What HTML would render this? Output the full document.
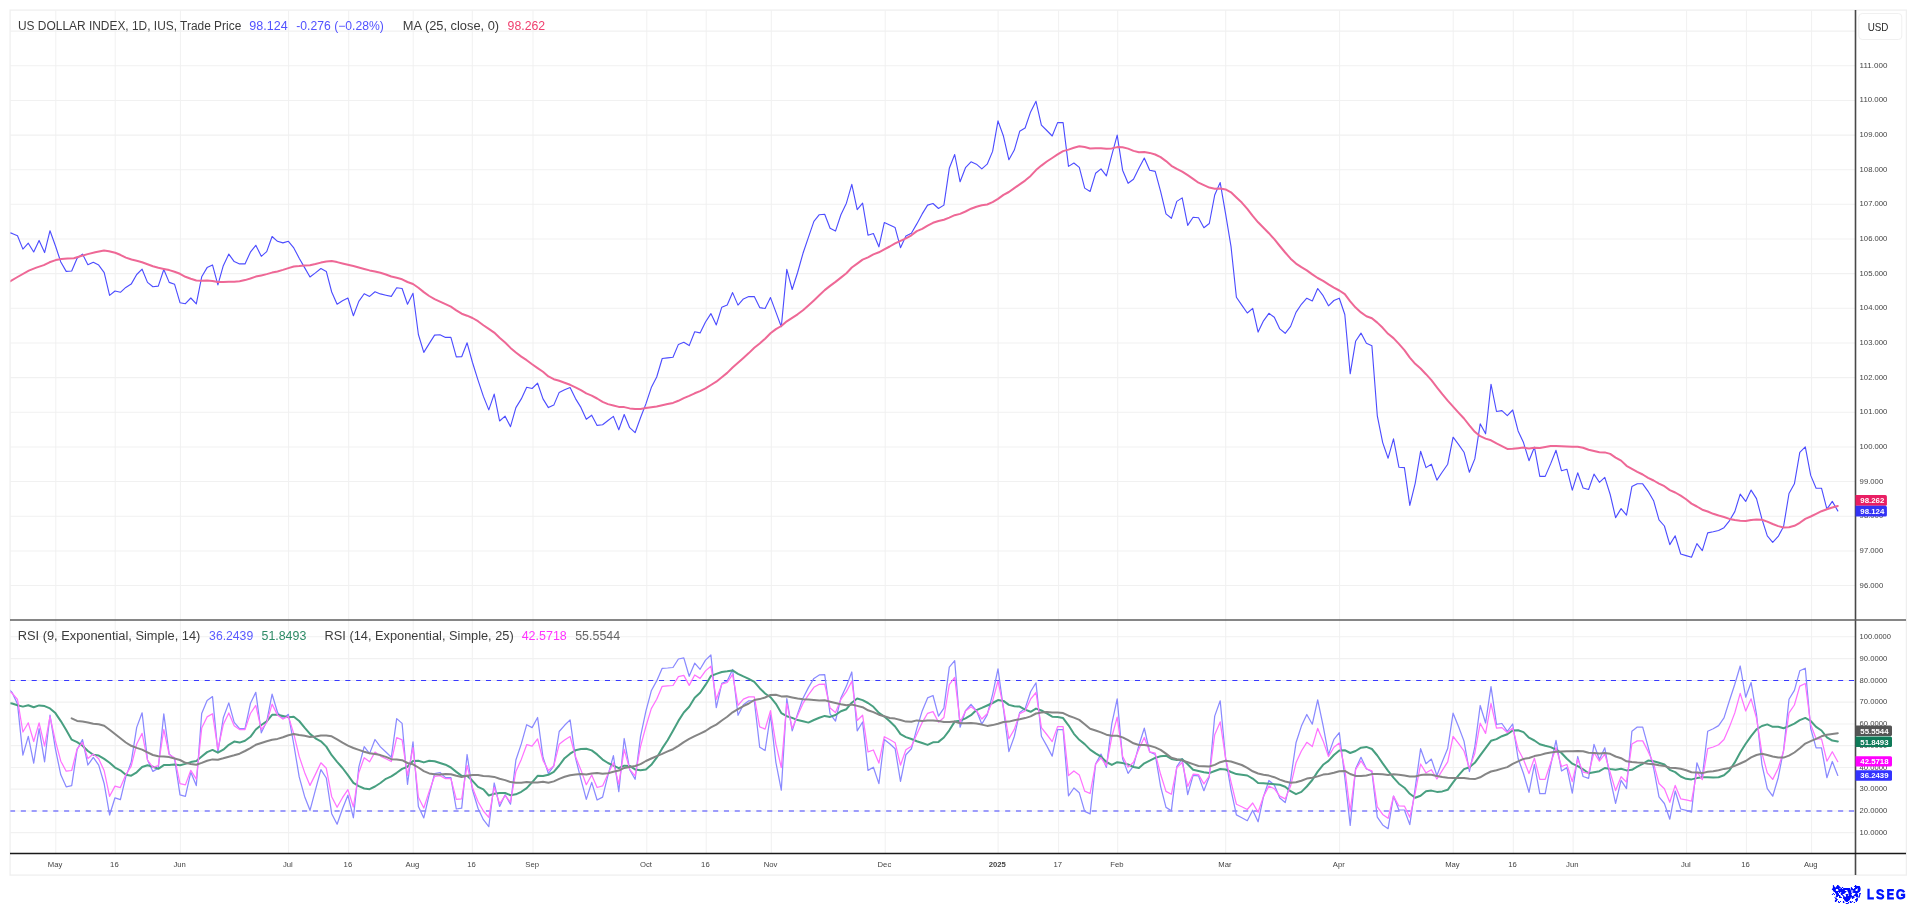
<!DOCTYPE html>
<html><head><meta charset="utf-8"><title>US DOLLAR INDEX</title>
<style>html,body{margin:0;padding:0;background:#fff;overflow:hidden}body{width:1916px;height:905px;position:relative;font-family:"Liberation Sans",sans-serif}</style>
</head><body>
<svg width="1916" height="905" viewBox="0 0 1916 905" style="position:absolute;left:0;top:0;will-change:transform" font-family="Liberation Sans, sans-serif">
<rect x="0" y="0" width="1916" height="905" fill="#fff"/>
<rect x="10.1" y="10.1" width="1896.3" height="865" fill="none" stroke="#efefef" stroke-width="1.3"/>
<path d="M55.8 10V853.5M115.2 10V853.5M180.4 10V853.5M288.6 10V853.5M348.7 10V853.5M413.2 10V853.5M472.3 10V853.5M533.0 10V853.5M646.8 10V853.5M706.2 10V853.5M771.3 10V853.5M885.2 10V853.5M998.1 10V853.5M1058.6 10V853.5M1117.7 10V853.5M1225.7 10V853.5M1339.6 10V853.5M1453.2 10V853.5M1513.3 10V853.5M1573.1 10V853.5M1686.6 10V853.5M1746.4 10V853.5M1811.6 10V853.5M10 585.5H1855.5M10 550.9H1855.5M10 516.2H1855.5M10 481.5H1855.5M10 446.9H1855.5M10 412.2H1855.5M10 377.6H1855.5M10 342.9H1855.5M10 308.3H1855.5M10 273.6H1855.5M10 239.0H1855.5M10 204.3H1855.5M10 169.7H1855.5M10 135.1H1855.5M10 100.4H1855.5M10 65.8H1855.5M10 31.1H1855.5M10 832.6H1855.5M10 810.9H1855.5M10 789.1H1855.5M10 767.4H1855.5M10 745.6H1855.5M10 723.9H1855.5M10 702.1H1855.5M10 680.4H1855.5M10 658.6H1855.5M10 636.8H1855.5" stroke="#f1f1f1" stroke-width="1.05" fill="none"/>
<defs><clipPath id="cp"><rect x="10.4" y="10" width="1845.1" height="610"/></clipPath><clipPath id="cr"><rect x="10.4" y="620.5" width="1845.1" height="233"/></clipPath></defs>
<g clip-path="url(#cr)" fill="none" stroke-linejoin="round" stroke-linecap="round">
<path d="M10 680.5H1855.5" stroke="#3838ff" stroke-width="1.1" stroke-dasharray="5.1 5.717" stroke-linecap="butt"/>
<path d="M10 811H1855.5" stroke="#4040ff" stroke-width="1" stroke-dasharray="5.1 5.717" stroke-linecap="butt"/>
<path d="M6.6 687.1L12.1 692.5L17.5 703.9L22.9 755.1L28.3 736.4L33.7 763.1L39.1 728.7L44.6 761.8L50.0 715.2L55.4 748.8L60.8 774.8L66.2 786.8L71.7 785.6L77.1 749.6L82.5 739.6L87.9 765.0L93.3 757.4L98.7 765.1L104.2 783.8L109.6 815.0L115.0 797.8L120.4 799.7L125.8 776.9L131.2 762.1L136.7 727.4L142.1 712.8L147.5 759.9L152.9 771.4L158.3 768.2L163.8 713.9L169.2 754.0L174.6 759.0L180.0 794.9L185.4 796.4L190.8 772.2L196.3 785.6L201.7 713.5L207.1 700.4L212.5 696.6L217.9 752.2L223.3 717.8L228.8 702.9L234.2 722.4L239.6 728.6L245.0 728.6L250.4 703.6L255.8 692.3L261.3 732.8L266.7 721.5L272.1 694.2L277.5 712.3L282.9 718.7L288.4 714.3L293.8 744.5L299.2 776.9L304.6 796.4L310.0 810.3L315.4 790.2L320.9 769.6L326.3 778.0L331.7 813.7L337.1 824.2L342.5 808.7L347.9 795.2L353.4 817.8L358.8 767.2L364.2 746.7L369.6 753.6L375.0 739.5L380.4 746.9L385.9 752.0L391.3 757.3L396.7 718.6L402.1 723.4L407.5 784.3L413.0 741.8L418.4 806.5L423.8 817.9L429.2 794.7L434.6 773.6L440.0 772.5L445.5 777.6L450.9 777.6L456.3 809.0L461.7 808.1L467.1 754.5L472.5 790.0L478.0 808.3L483.4 819.7L488.8 826.7L494.2 783.0L499.6 806.4L505.1 794.8L510.5 804.1L515.9 760.0L521.3 743.9L526.7 724.7L532.1 727.6L537.6 717.5L543.0 757.3L548.4 773.5L553.8 765.8L559.2 731.5L564.6 725.3L570.1 719.9L575.5 757.9L580.9 779.1L586.3 799.4L591.7 782.4L597.1 800.0L602.6 797.1L608.0 775.1L613.4 755.7L618.8 791.6L624.2 738.5L629.7 769.7L635.1 779.3L640.5 736.7L645.9 711.2L651.3 690.8L656.7 680.9L662.2 668.3L667.6 668.0L673.0 667.5L678.4 659.0L683.8 657.9L689.2 676.3L694.7 663.2L700.1 669.3L705.5 660.1L710.9 655.0L716.3 707.7L721.8 683.4L727.2 681.0L732.6 669.5L738.0 715.3L743.4 704.8L748.8 700.8L754.3 700.8L759.7 747.3L765.1 750.5L770.5 714.9L775.9 762.5L781.3 790.1L786.8 698.6L792.2 730.8L797.6 713.9L803.0 698.2L808.4 687.6L813.9 678.4L819.3 674.9L824.7 674.6L830.1 713.8L835.5 721.0L840.9 697.9L846.4 686.1L851.8 672.0L857.2 730.8L862.6 722.0L868.0 770.4L873.4 767.2L878.9 783.6L884.3 739.5L889.7 743.8L895.1 748.7L900.5 781.3L905.9 754.7L911.4 748.8L916.8 728.6L922.2 710.9L927.6 697.9L933.0 695.5L938.5 716.2L943.9 708.2L949.3 667.1L954.7 660.7L960.1 727.2L965.5 710.7L971.0 704.3L976.4 710.6L981.8 724.1L987.2 714.9L992.6 694.3L998.0 668.9L1003.5 709.2L1008.9 751.6L1014.3 736.5L1019.7 712.4L1025.1 708.6L1030.6 691.7L1036.0 682.8L1041.4 736.3L1046.8 745.9L1052.2 756.1L1057.6 729.5L1063.1 729.5L1068.5 795.8L1073.9 788.0L1079.3 792.8L1084.7 811.4L1090.1 813.9L1095.6 764.1L1101.0 754.1L1106.4 767.4L1111.8 723.9L1117.2 698.9L1122.6 758.8L1128.1 773.4L1133.5 765.8L1138.9 745.3L1144.3 728.2L1149.7 752.0L1155.2 754.3L1160.6 786.3L1166.0 807.4L1171.4 810.7L1176.8 766.6L1182.2 758.6L1187.7 794.6L1193.1 775.4L1198.5 775.9L1203.9 790.7L1209.3 776.8L1214.7 716.1L1220.2 700.8L1225.6 758.3L1231.0 789.8L1236.4 814.9L1241.8 817.7L1247.3 820.7L1252.7 810.2L1258.1 821.8L1263.5 796.7L1268.9 780.5L1274.3 785.1L1279.8 798.0L1285.2 802.6L1290.6 779.8L1296.0 742.8L1301.4 726.1L1306.8 714.5L1312.3 724.2L1317.7 699.8L1323.1 725.6L1328.5 754.6L1333.9 739.4L1339.3 732.7L1344.8 777.3L1350.2 825.4L1355.6 768.7L1361.0 757.3L1366.4 768.7L1371.9 771.7L1377.3 817.2L1382.7 824.9L1388.1 828.7L1393.5 796.1L1398.9 809.9L1404.4 810.0L1409.8 824.6L1415.2 788.1L1420.6 748.7L1426.0 763.7L1431.4 759.1L1436.9 775.6L1442.3 761.8L1447.7 748.5L1453.1 713.2L1458.5 726.6L1464.0 741.1L1469.4 771.5L1474.8 746.8L1480.2 705.5L1485.6 723.0L1491.0 686.6L1496.5 724.3L1501.9 723.5L1507.3 731.3L1512.7 724.0L1518.1 758.5L1523.5 773.5L1529.0 792.3L1534.4 764.5L1539.8 793.7L1545.2 793.7L1550.6 765.6L1556.0 740.4L1561.5 771.0L1566.9 767.6L1572.3 793.1L1577.7 756.5L1583.1 776.5L1588.6 778.4L1594.0 744.4L1599.4 759.5L1604.8 747.8L1610.2 778.6L1615.6 803.4L1621.1 780.4L1626.5 788.6L1631.9 731.3L1637.3 727.1L1642.7 727.1L1648.1 746.9L1653.6 768.0L1659.0 796.8L1664.4 803.5L1669.8 819.2L1675.2 791.0L1680.7 809.0L1686.1 810.4L1691.5 812.1L1696.9 762.8L1702.3 776.7L1707.7 731.2L1713.2 728.8L1718.6 725.6L1724.0 717.9L1729.4 700.8L1734.8 684.2L1740.2 666.0L1745.7 697.2L1751.1 682.5L1756.5 714.4L1761.9 764.3L1767.3 788.6L1772.7 796.2L1778.2 777.7L1783.6 750.0L1789.0 699.3L1794.4 690.4L1799.8 670.8L1805.3 668.2L1810.7 728.5L1816.1 747.8L1821.5 747.8L1826.9 777.7L1832.3 761.5L1837.8 775.4" stroke="#8a8aff" stroke-width="1.25"/>
<path d="M6.6 702.8L12.1 703.5L17.5 705.2L22.9 706.6L28.3 705.2L33.7 707.2L39.1 705.4L44.6 706.1L50.0 708.4L55.4 713.1L60.8 721.1L66.2 730.1L71.7 739.7L77.1 742.1L82.5 745.8L87.9 751.0L93.3 754.8L98.7 755.6L104.2 758.9L109.6 762.7L115.0 767.6L120.4 770.3L125.8 774.7L131.2 775.7L136.7 772.3L142.1 767.0L147.5 765.2L152.9 766.7L158.3 768.8L163.8 765.1L169.2 764.9L174.6 764.4L180.0 765.2L185.4 763.9L190.8 762.1L196.3 761.1L201.7 756.5L207.1 752.1L212.5 749.9L217.9 752.7L223.3 749.7L228.8 744.8L234.2 741.6L239.6 742.6L245.0 740.8L250.4 736.8L255.8 729.5L261.3 725.0L266.7 721.4L272.1 714.8L277.5 714.7L282.9 716.0L288.4 717.3L293.8 716.8L299.2 721.0L304.6 727.7L310.0 733.9L315.4 738.3L320.9 741.3L326.3 746.6L331.7 755.2L337.1 761.8L342.5 768.0L347.9 775.2L353.4 782.8L358.8 786.2L364.2 788.5L369.6 789.2L375.0 786.5L380.4 783.0L385.9 778.8L391.3 776.4L396.7 772.8L402.1 768.9L407.5 766.8L413.0 760.9L418.4 760.8L423.8 762.4L429.2 760.7L434.6 761.2L440.0 763.0L445.5 764.7L450.9 767.5L456.3 771.9L461.7 775.9L467.1 775.7L472.5 780.8L478.0 786.9L483.4 789.4L488.8 795.5L494.2 793.8L499.6 793.0L505.1 793.0L510.5 795.2L515.9 794.3L521.3 791.8L526.7 788.1L532.1 782.3L537.6 775.8L543.0 776.0L548.4 774.8L553.8 771.8L559.2 765.5L564.6 758.2L570.1 753.7L575.5 750.3L580.9 749.1L586.3 748.8L591.7 750.4L597.1 754.4L602.6 759.6L608.0 763.0L613.4 765.7L618.8 768.2L624.2 765.7L629.7 765.9L635.1 769.4L640.5 770.2L645.9 769.6L651.3 764.8L656.7 757.7L662.2 748.4L667.6 740.2L673.0 730.7L678.4 720.9L683.8 712.5L689.2 706.8L694.7 697.7L700.1 692.7L705.5 684.9L710.9 676.0L716.3 673.9L721.8 672.0L727.2 671.3L732.6 670.4L738.0 673.8L743.4 676.4L748.8 678.8L754.3 681.8L759.7 688.2L765.1 693.5L770.5 697.2L775.9 703.8L781.3 713.1L786.8 716.2L792.2 717.9L797.6 720.1L803.0 721.3L808.4 722.6L813.9 720.0L819.3 717.8L824.7 715.9L830.1 716.9L835.5 715.0L840.9 711.2L846.4 709.2L851.8 702.7L857.2 698.5L862.6 700.1L868.0 703.0L873.4 706.8L878.9 712.9L884.3 716.6L889.7 721.2L895.1 726.5L900.5 734.1L905.9 737.1L911.4 739.0L916.8 741.2L922.2 743.0L927.6 744.9L933.0 742.3L938.5 741.9L943.9 737.5L949.3 730.3L954.7 721.6L960.1 720.7L965.5 718.3L971.0 715.2L976.4 710.1L981.8 707.9L987.2 705.5L992.6 703.0L998.0 700.1L1003.5 700.9L1008.9 704.9L1014.3 706.3L1019.7 706.6L1025.1 709.6L1030.6 711.8L1036.0 708.6L1041.4 710.5L1046.8 713.4L1052.2 716.7L1057.6 717.1L1063.1 718.1L1068.5 725.3L1073.9 733.8L1079.3 739.8L1084.7 744.1L1090.1 749.6L1095.6 753.3L1101.0 756.6L1106.4 762.0L1111.8 764.9L1117.2 762.2L1122.6 763.1L1128.1 764.4L1133.5 767.0L1138.9 768.1L1144.3 763.3L1149.7 760.7L1155.2 757.9L1160.6 756.2L1166.0 755.7L1171.4 759.0L1176.8 759.9L1182.2 759.3L1187.7 764.3L1193.1 769.8L1198.5 771.0L1203.9 772.3L1209.3 773.1L1214.7 771.0L1220.2 769.0L1225.6 769.5L1231.0 772.0L1236.4 774.1L1241.8 774.8L1247.3 775.5L1252.7 778.6L1258.1 783.1L1263.5 783.3L1268.9 783.7L1274.3 784.3L1279.8 784.8L1285.2 786.7L1290.6 791.2L1296.0 794.2L1301.4 791.9L1306.8 786.5L1312.3 780.0L1317.7 771.6L1323.1 764.8L1328.5 760.9L1333.9 755.0L1339.3 750.4L1344.8 750.2L1350.2 753.0L1355.6 751.0L1361.0 747.7L1366.4 746.9L1371.9 749.0L1377.3 755.5L1382.7 763.4L1388.1 770.8L1393.5 777.7L1398.9 783.7L1404.4 787.7L1409.8 793.8L1415.2 797.7L1420.6 795.7L1426.0 791.3L1431.4 790.6L1436.9 791.9L1442.3 791.4L1447.7 789.8L1453.1 782.3L1458.5 775.3L1464.0 769.1L1469.4 767.3L1474.8 762.8L1480.2 755.3L1485.6 748.1L1491.0 740.8L1496.5 739.1L1501.9 736.2L1507.3 734.2L1512.7 730.5L1518.1 730.3L1523.5 732.1L1529.0 737.7L1534.4 740.5L1539.8 744.2L1545.2 745.8L1550.6 747.1L1556.0 749.6L1561.5 753.0L1566.9 758.8L1572.3 763.7L1577.7 766.1L1583.1 769.3L1588.6 773.2L1594.0 772.2L1599.4 771.2L1604.8 768.0L1610.2 769.0L1615.6 769.7L1621.1 768.8L1626.5 770.4L1631.9 769.8L1637.3 766.6L1642.7 763.8L1648.1 760.5L1653.6 761.3L1659.0 762.7L1664.4 764.5L1669.8 769.9L1675.2 772.1L1680.7 776.5L1686.1 778.8L1691.5 779.4L1696.9 778.1L1702.3 777.3L1707.7 777.3L1713.2 777.4L1718.6 777.3L1724.0 775.2L1729.4 770.4L1734.8 762.4L1740.2 752.5L1745.7 743.8L1751.1 736.1L1756.5 729.3L1761.9 726.0L1767.3 724.4L1772.7 726.8L1778.2 726.8L1783.6 728.2L1789.0 726.1L1794.4 723.6L1799.8 720.2L1805.3 717.9L1810.7 721.0L1816.1 726.9L1821.5 730.5L1826.9 737.3L1832.3 740.6L1837.8 741.4" stroke="#489f80" stroke-width="2"/>
<path d="M6.6 690.1L12.1 693.1L17.5 699.5L22.9 732.0L28.3 722.8L33.7 741.5L39.1 722.8L44.6 746.2L50.0 716.7L55.4 740.8L60.8 761.2L66.2 771.2L71.7 770.5L77.1 748.8L82.5 742.5L87.9 758.6L93.3 754.1L98.7 758.8L104.2 770.8L109.6 796.3L115.0 786.1L120.4 787.6L125.8 774.8L131.2 766.2L136.7 744.0L142.1 733.4L147.5 760.0L152.9 767.4L158.3 765.6L163.8 729.5L169.2 754.5L174.6 757.8L180.0 783.7L185.4 784.9L190.8 770.3L196.3 779.1L201.7 728.1L207.1 716.9L212.5 713.7L217.9 749.4L223.3 724.6L228.8 712.9L234.2 725.7L239.6 729.6L245.0 729.6L250.4 713.5L255.8 705.4L261.3 729.6L266.7 722.7L272.1 704.1L277.5 715.1L282.9 718.9L288.4 716.4L293.8 733.9L299.2 756.4L304.6 772.4L310.0 785.4L315.4 774.4L320.9 762.8L326.3 768.3L331.7 796.7L337.1 807.3L342.5 797.7L347.9 789.6L353.4 807.0L358.8 772.7L364.2 757.7L369.6 761.8L375.0 752.1L380.4 756.1L385.9 758.8L391.3 761.5L396.7 737.6L402.1 739.9L407.5 775.4L413.0 747.7L418.4 797.2L423.8 808.0L429.2 791.4L434.6 776.3L440.0 775.6L445.5 778.7L450.9 778.7L456.3 799.4L461.7 798.9L467.1 765.4L472.5 787.8L478.0 801.5L483.4 811.0L488.8 817.3L494.2 787.4L499.6 803.8L505.1 795.7L510.5 802.1L515.9 771.4L521.3 759.4L526.7 744.7L532.1 746.2L537.6 738.9L543.0 760.4L548.4 770.4L553.8 765.8L559.2 744.3L564.6 740.0L570.1 736.5L575.5 756.6L580.9 769.9L586.3 784.7L591.7 775.0L597.1 787.5L602.6 785.9L608.0 773.9L613.4 762.7L618.8 784.2L624.2 749.3L629.7 769.3L635.1 775.8L640.5 746.6L645.9 726.5L651.3 708.6L656.7 699.3L662.2 686.3L667.6 685.9L673.0 685.5L678.4 676.7L683.8 675.4L689.2 685.4L694.7 675.0L700.1 678.4L705.5 670.9L710.9 666.2L716.3 699.3L721.8 684.2L727.2 682.5L732.6 674.4L738.0 705.3L743.4 699.1L748.8 696.8L754.3 696.8L759.7 726.8L765.1 729.1L770.5 710.7L775.9 744.2L781.3 767.6L786.8 703.3L792.2 728.3L797.6 715.5L803.0 703.4L808.4 694.8L813.9 687.3L819.3 684.3L824.7 684.1L830.1 708.0L835.5 712.6L840.9 699.4L846.4 691.6L851.8 681.2L857.2 720.5L862.6 715.2L868.0 751.8L873.4 750.0L878.9 763.1L884.3 736.7L889.7 739.5L895.1 742.7L900.5 765.2L905.9 749.8L911.4 746.3L916.8 734.2L922.2 722.6L927.6 713.3L933.0 711.6L938.5 722.2L943.9 717.5L949.3 684.6L954.7 677.4L960.1 722.4L965.5 711.1L971.0 706.7L976.4 710.7L981.8 719.0L987.2 713.8L992.6 701.1L998.0 681.0L1003.5 707.6L1008.9 738.8L1014.3 729.4L1019.7 713.6L1025.1 711.0L1030.6 699.2L1036.0 692.5L1041.4 727.7L1046.8 734.5L1052.2 741.6L1057.6 726.6L1063.1 726.6L1068.5 775.6L1073.9 771.0L1079.3 774.9L1084.7 791.1L1090.1 793.5L1095.6 764.1L1101.0 757.8L1106.4 765.7L1111.8 737.0L1117.2 717.1L1122.6 756.4L1128.1 767.1L1133.5 762.3L1138.9 749.0L1144.3 737.5L1149.7 751.8L1155.2 753.2L1160.6 774.3L1166.0 791.4L1171.4 794.3L1176.8 767.6L1182.2 762.5L1187.7 786.4L1193.1 774.2L1198.5 774.6L1203.9 783.9L1209.3 776.0L1214.7 734.7L1220.2 721.9L1225.6 758.1L1231.0 781.9L1236.4 804.2L1241.8 806.8L1247.3 809.5L1252.7 803.0L1258.1 812.2L1263.5 796.4L1268.9 786.1L1274.3 788.7L1279.8 796.1L1285.2 798.9L1290.6 786.1L1296.0 762.8L1301.4 751.0L1306.8 742.3L1312.3 746.6L1317.7 728.4L1323.1 740.9L1328.5 756.5L1333.9 747.3L1339.3 743.1L1344.8 769.1L1350.2 811.2L1355.6 769.6L1361.0 760.9L1366.4 768.8L1371.9 770.8L1377.3 806.8L1382.7 814.4L1388.1 818.3L1393.5 796.1L1398.9 806.0L1404.4 806.1L1409.8 817.3L1415.2 792.8L1420.6 764.0L1426.0 772.8L1431.4 769.7L1436.9 779.0L1442.3 770.3L1447.7 761.8L1453.1 736.5L1458.5 743.4L1464.0 751.0L1469.4 768.4L1474.8 753.2L1480.2 723.2L1485.6 733.4L1491.0 703.5L1496.5 728.2L1501.9 727.6L1507.3 732.5L1512.7 728.0L1518.1 749.2L1523.5 759.5L1529.0 773.6L1534.4 758.1L1539.8 779.3L1545.2 779.3L1550.6 763.3L1556.0 747.7L1561.5 766.5L1566.9 764.5L1572.3 781.6L1577.7 759.2L1583.1 772.1L1588.6 773.3L1594.0 752.5L1599.4 761.2L1604.8 754.1L1610.2 772.5L1615.6 790.6L1621.1 776.7L1626.5 782.1L1631.9 744.0L1637.3 740.9L1642.7 740.9L1648.1 751.4L1653.6 763.6L1659.0 783.5L1664.4 788.7L1669.8 802.3L1675.2 785.4L1680.7 798.8L1686.1 799.9L1691.5 801.2L1696.9 771.9L1702.3 779.7L1707.7 748.7L1713.2 747.0L1718.6 744.7L1724.0 739.5L1729.4 727.1L1734.8 712.9L1740.2 693.4L1745.7 711.0L1751.1 698.8L1756.5 718.1L1761.9 752.9L1767.3 772.8L1772.7 779.4L1778.2 768.3L1783.6 750.9L1789.0 712.8L1794.4 705.0L1799.8 686.1L1805.3 683.5L1810.7 724.5L1816.1 738.8L1821.5 738.8L1826.9 761.2L1832.3 751.7L1837.8 761.7" stroke="#ff72ff" stroke-width="1.25"/>
<path d="M71.7 718.3L77.1 720.9L82.5 721.6L87.9 722.5L93.3 723.7L98.7 724.3L104.2 725.8L109.6 729.8L115.0 734.0L120.4 738.2L125.8 742.5L131.2 745.8L136.7 747.9L142.1 749.6L147.5 752.3L152.9 755.0L158.3 756.3L163.8 756.6L169.2 757.1L174.6 758.5L180.0 760.0L185.4 762.8L190.8 763.9L196.3 764.7L201.7 762.9L207.1 760.8L212.5 759.4L217.9 759.7L223.3 758.3L228.8 756.7L234.2 755.3L239.6 753.7L245.0 751.0L250.4 748.1L255.8 744.8L261.3 743.0L266.7 741.3L272.1 739.7L277.5 738.9L282.9 737.3L288.4 735.3L293.8 734.0L299.2 735.1L304.6 735.8L310.0 736.9L315.4 736.5L320.9 735.6L326.3 735.6L331.7 736.3L337.1 739.4L342.5 742.7L347.9 745.7L353.4 748.0L358.8 749.9L364.2 751.7L369.6 753.2L375.0 754.1L380.4 755.1L385.9 756.9L391.3 759.2L396.7 759.5L402.1 760.2L407.5 763.0L413.0 764.3L418.4 767.5L423.8 771.1L429.2 773.4L434.6 774.2L440.0 774.4L445.5 774.1L450.9 774.3L456.3 775.7L461.7 776.9L467.1 775.7L472.5 774.9L478.0 775.1L483.4 775.9L488.8 776.3L494.2 776.9L499.6 778.8L505.1 780.1L510.5 782.1L515.9 782.7L521.3 782.8L526.7 782.1L532.1 782.4L537.6 782.4L543.0 781.8L548.4 782.7L553.8 781.4L559.2 778.9L564.6 776.8L570.1 775.2L575.5 774.5L580.9 774.1L586.3 774.4L591.7 773.4L597.1 772.9L602.6 773.8L608.0 773.2L613.4 771.7L618.8 770.6L624.2 767.9L629.7 767.1L635.1 766.0L640.5 764.1L645.9 761.0L651.3 758.5L656.7 756.1L662.2 753.8L667.6 751.4L673.0 749.2L678.4 745.9L683.8 742.1L689.2 738.9L694.7 736.1L700.1 733.6L705.5 731.0L710.9 727.4L716.3 724.6L721.8 720.5L727.2 716.8L732.6 712.3L738.0 709.1L743.4 706.1L748.8 703.5L754.3 700.0L759.7 699.1L765.1 697.5L770.5 694.9L775.9 694.8L781.3 696.4L786.8 696.2L792.2 697.4L797.6 698.5L803.0 699.2L808.4 699.6L813.9 700.0L819.3 700.4L824.7 700.3L830.1 701.7L835.5 703.0L840.9 704.2L846.4 705.2L851.8 704.5L857.2 705.9L862.6 707.2L868.0 710.3L873.4 712.1L878.9 714.7L884.3 716.3L889.7 718.0L895.1 718.6L900.5 720.0L905.9 721.6L911.4 721.7L916.8 720.4L922.2 721.1L927.6 720.5L933.0 720.4L938.5 721.1L943.9 722.0L949.3 721.9L954.7 721.6L960.1 723.2L965.5 723.3L971.0 723.1L976.4 723.5L981.8 724.6L987.2 725.9L992.6 725.1L998.0 723.8L1003.5 722.0L1008.9 721.6L1014.3 720.2L1019.7 719.3L1025.1 718.1L1030.6 716.4L1036.0 713.5L1041.4 712.6L1046.8 712.1L1052.2 712.4L1057.6 712.6L1063.1 713.1L1068.5 715.7L1073.9 717.6L1079.3 719.9L1084.7 724.2L1090.1 728.8L1095.6 730.5L1101.0 732.4L1106.4 734.7L1111.8 735.8L1117.2 735.7L1122.6 737.4L1128.1 740.1L1133.5 743.3L1138.9 745.0L1144.3 744.9L1149.7 745.8L1155.2 747.4L1160.6 749.9L1166.0 753.6L1171.4 757.7L1176.8 759.3L1182.2 760.4L1187.7 762.2L1193.1 764.1L1198.5 766.0L1203.9 766.3L1209.3 766.5L1214.7 764.9L1220.2 762.2L1225.6 760.7L1231.0 761.5L1236.4 763.3L1241.8 765.0L1247.3 767.9L1252.7 771.3L1258.1 773.5L1263.5 774.7L1268.9 775.6L1274.3 777.2L1279.8 779.6L1285.2 781.5L1290.6 782.8L1296.0 782.3L1301.4 780.7L1306.8 778.6L1312.3 777.8L1317.7 776.4L1323.1 774.6L1328.5 773.9L1333.9 772.8L1339.3 771.2L1344.8 770.9L1350.2 774.0L1355.6 775.9L1361.0 776.0L1366.4 775.5L1371.9 774.1L1377.3 774.1L1382.7 774.3L1388.1 774.9L1393.5 774.3L1398.9 774.7L1404.4 775.5L1409.8 776.6L1415.2 776.5L1420.6 775.1L1426.0 774.6L1431.4 774.8L1436.9 776.0L1442.3 777.1L1447.7 777.7L1453.1 778.0L1458.5 778.1L1464.0 777.9L1469.4 778.7L1474.8 779.1L1480.2 777.3L1485.6 774.2L1491.0 771.5L1496.5 770.2L1501.9 768.6L1507.3 767.1L1512.7 763.9L1518.1 761.3L1523.5 758.9L1529.0 758.0L1534.4 756.1L1539.8 755.1L1545.2 753.5L1550.6 752.4L1556.0 751.7L1561.5 751.5L1566.9 751.2L1572.3 751.3L1577.7 750.9L1583.1 751.3L1588.6 752.8L1594.0 753.1L1599.4 753.6L1604.8 753.0L1610.2 753.8L1615.6 756.5L1621.1 758.2L1626.5 761.3L1631.9 762.0L1637.3 762.5L1642.7 762.8L1648.1 763.8L1653.6 764.3L1659.0 765.3L1664.4 765.9L1669.8 767.7L1675.2 767.9L1680.7 768.7L1686.1 770.2L1691.5 772.3L1696.9 772.5L1702.3 773.1L1707.7 771.8L1713.2 771.3L1718.6 770.2L1724.0 768.9L1729.4 767.9L1734.8 765.9L1740.2 763.5L1745.7 761.0L1751.1 757.4L1756.5 755.0L1761.9 753.8L1767.3 755.0L1772.7 756.5L1778.2 757.6L1783.6 757.6L1789.0 755.6L1794.4 752.5L1799.8 748.3L1805.3 743.6L1810.7 741.2L1816.1 738.8L1821.5 736.3L1826.9 734.7L1832.3 733.9L1837.8 733.2" stroke="#858585" stroke-width="2"/>
</g>
<g clip-path="url(#cp)" fill="none" stroke-linejoin="round" stroke-linecap="round">
<path d="M6.6 232.2L12.1 233.4L17.5 235.7L22.9 249.1L28.3 243.2L33.7 252.0L39.1 240.4L44.6 252.6L50.0 230.7L55.4 245.7L60.8 262.0L66.2 271.4L71.7 271.0L77.1 258.2L82.5 254.1L87.9 264.7L93.3 262.3L98.7 265.1L104.2 272.6L109.6 295.4L115.0 291.0L120.4 292.3L125.8 287.4L131.2 284.1L136.7 274.5L142.1 269.2L147.5 282.4L152.9 286.8L158.3 286.1L163.8 269.5L169.2 282.4L174.6 284.3L180.0 302.7L185.4 303.7L190.8 298.0L196.3 303.9L201.7 276.8L207.1 267.6L212.5 264.9L217.9 284.9L223.3 265.7L228.8 254.1L234.2 261.6L239.6 263.9L245.0 263.9L250.4 252.2L255.8 245.3L261.3 256.3L266.7 251.6L272.1 236.5L277.5 241.3L282.9 242.9L288.4 241.3L293.8 247.9L299.2 258.2L304.6 267.6L310.0 277.0L315.4 272.9L320.9 268.5L326.3 271.4L331.7 292.0L337.1 304.2L342.5 300.8L347.9 298.0L353.4 315.8L358.8 301.4L364.2 293.7L369.6 296.4L375.0 291.8L380.4 293.9L385.9 295.2L391.3 296.4L396.7 287.7L402.1 288.5L407.5 304.2L413.0 293.3L418.4 334.5L423.8 352.4L429.2 343.6L434.6 335.1L440.0 334.7L445.5 337.4L450.9 337.4L456.3 356.9L461.7 356.7L467.1 342.8L472.5 362.5L478.0 380.1L483.4 396.4L488.8 409.9L494.2 394.1L499.6 421.0L505.1 416.2L510.5 426.7L515.9 407.6L521.3 398.9L526.7 387.3L532.1 388.5L537.6 383.2L543.0 398.9L548.4 407.6L553.8 405.1L559.2 392.4L564.6 389.7L570.1 387.6L575.5 398.6L580.9 407.4L586.3 419.3L591.7 415.2L597.1 425.4L602.6 424.8L608.0 420.5L613.4 416.4L618.8 429.8L624.2 414.5L629.7 427.7L635.1 432.7L640.5 417.7L645.9 403.9L651.3 387.6L656.7 377.0L662.2 358.5L667.6 357.9L673.0 357.3L678.4 344.4L683.8 342.3L689.2 345.6L694.7 331.8L700.1 332.9L705.5 322.0L710.9 313.6L716.3 324.9L721.8 307.2L727.2 304.9L732.6 292.6L738.0 305.1L743.4 298.9L748.8 296.6L754.3 296.6L759.7 307.6L765.1 308.5L770.5 297.6L775.9 312.1L781.3 326.7L786.8 269.4L792.2 289.5L797.6 272.5L803.0 253.3L808.4 237.4L813.9 221.4L819.3 214.7L824.7 214.2L830.1 228.3L835.5 231.1L840.9 214.7L846.4 203.2L851.8 184.4L857.2 209.7L862.6 203.2L868.0 235.2L873.4 233.5L878.9 246.8L884.3 222.6L889.7 225.1L895.1 227.6L900.5 247.7L905.9 236.0L911.4 233.3L916.8 223.9L922.2 213.9L927.6 205.1L933.0 203.5L938.5 208.5L943.9 205.1L949.3 168.3L954.7 154.5L960.1 181.8L965.5 167.7L971.0 161.8L976.4 164.2L981.8 168.9L987.2 164.2L992.6 151.4L998.0 120.9L1003.5 136.3L1008.9 159.8L1014.3 150.1L1019.7 131.3L1025.1 128.0L1030.6 111.9L1036.0 101.3L1041.4 125.1L1046.8 130.5L1052.2 136.0L1057.6 122.6L1063.1 122.6L1068.5 166.4L1073.9 163.0L1079.3 167.4L1084.7 188.1L1090.1 191.5L1095.6 173.3L1101.0 168.9L1106.4 175.8L1111.8 155.1L1117.2 135.1L1122.6 170.2L1128.1 183.3L1133.5 179.3L1138.9 168.3L1144.3 158.0L1149.7 170.2L1155.2 171.4L1160.6 191.4L1166.0 213.9L1171.4 218.3L1176.8 201.4L1182.2 197.9L1187.7 225.4L1193.1 217.3L1198.5 217.7L1203.9 227.7L1209.3 223.5L1214.7 195.1L1220.2 182.6L1225.6 213.8L1231.0 246.4L1236.4 297.2L1241.8 305.1L1247.3 313.0L1252.7 308.3L1258.1 332.1L1263.5 320.8L1268.9 313.3L1274.3 317.3L1279.8 328.9L1285.2 333.3L1290.6 326.4L1296.0 312.4L1301.4 304.3L1306.8 298.2L1312.3 301.0L1317.7 288.5L1323.1 295.7L1328.5 305.8L1333.9 300.5L1339.3 298.2L1344.8 314.5L1350.2 373.8L1355.6 341.3L1361.0 333.1L1366.4 343.2L1371.9 345.7L1377.3 415.8L1382.7 442.6L1388.1 458.2L1393.5 438.8L1398.9 467.2L1404.4 467.6L1409.8 505.4L1415.2 483.3L1420.6 451.3L1426.0 467.6L1431.4 464.2L1436.9 480.1L1442.3 472.0L1447.7 464.2L1453.1 437.2L1458.5 444.4L1464.0 452.2L1469.4 472.3L1474.8 458.9L1480.2 423.8L1485.6 433.8L1491.0 384.2L1496.5 411.5L1501.9 410.6L1507.3 415.6L1512.7 410.0L1518.1 430.9L1523.5 442.6L1529.0 460.7L1534.4 447.2L1539.8 476.4L1545.2 476.4L1550.6 463.9L1556.0 450.3L1561.5 470.8L1566.9 469.2L1572.3 490.1L1577.7 472.8L1583.1 488.0L1588.6 489.5L1594.0 474.1L1599.4 482.3L1604.8 477.3L1610.2 494.5L1615.6 517.6L1621.1 508.6L1626.5 515.1L1631.9 486.6L1637.3 483.8L1642.7 483.8L1648.1 491.3L1653.6 500.7L1659.0 519.9L1664.4 526.0L1669.8 544.6L1675.2 535.8L1680.7 554.0L1686.1 555.6L1691.5 557.3L1696.9 543.6L1702.3 550.6L1707.7 532.9L1713.2 531.8L1718.6 530.5L1724.0 527.7L1729.4 520.8L1734.8 511.6L1740.2 494.1L1745.7 501.4L1751.1 490.1L1756.5 498.6L1761.9 518.9L1767.3 535.8L1772.7 542.3L1778.2 536.4L1783.6 526.4L1789.0 493.5L1794.4 483.8L1799.8 452.3L1805.3 446.8L1810.7 475.4L1816.1 488.2L1821.5 488.2L1826.9 509.1L1832.3 501.4L1837.8 510.9" stroke="#4c4cff" stroke-width="1.12"/>
<path d="M10.0 281.4L17.5 277.0L28.8 270.7L36.3 267.6L43.8 265.1L49.5 262.3L55.7 260.1L61.4 259.1L67.6 258.5L73.9 258.2L80.2 256.3L87.7 254.1L95.2 252.2L104.0 250.4L109.0 251.3L115.2 252.8L120.2 254.8L125.9 257.6L131.5 259.5L136.7 260.8L142.1 262.3L147.5 264.3L152.9 266.3L158.3 267.8L163.8 268.9L169.2 270.1L174.6 271.8L180.0 273.8L185.4 276.8L190.8 278.8L196.3 280.5L201.7 280.7L207.1 280.6L212.5 280.9L217.9 282.1L223.3 282.1L228.8 281.8L234.2 281.7L239.6 281.3L245.0 280.1L250.4 278.5L255.8 276.6L261.3 275.4L266.7 274.1L272.1 272.6L277.5 271.5L282.9 269.9L288.4 268.1L293.8 266.5L299.2 266.1L304.6 265.5L310.0 265.2L315.4 264.0L320.9 262.6L326.3 261.5L331.7 261.1L337.1 262.1L342.5 263.5L347.9 264.8L353.4 266.0L358.8 267.5L364.2 269.0L369.6 270.4L375.0 271.6L380.4 272.8L385.9 274.5L391.3 276.5L396.7 277.8L402.1 279.3L407.5 282.0L413.0 284.0L418.4 287.7L423.8 292.1L429.2 296.0L434.6 299.1L440.0 301.7L445.5 304.2L450.9 306.7L456.3 310.3L461.7 313.7L467.1 315.7L472.5 318.0L478.0 321.2L483.4 325.2L488.8 328.9L494.2 332.6L499.6 337.7L505.1 342.5L510.5 347.9L515.9 352.5L521.3 356.6L526.7 360.2L532.1 364.3L537.6 368.1L543.0 371.8L548.4 376.4L553.8 379.2L559.2 380.8L564.6 382.7L570.1 384.8L575.5 387.3L580.9 390.1L586.3 393.4L591.7 395.7L597.1 398.5L602.6 401.8L608.0 404.1L613.4 405.5L618.8 406.9L624.2 407.1L629.7 408.4L635.1 408.9L640.5 408.9L645.9 408.0L651.3 407.2L656.7 406.4L662.2 405.2L667.6 404.0L673.0 402.9L678.4 400.8L683.8 398.1L689.2 395.8L694.7 393.3L700.1 391.1L705.5 388.4L710.9 385.0L716.3 381.7L721.8 377.3L727.2 372.9L732.6 367.5L738.0 362.8L743.4 357.9L748.8 353.1L754.3 347.8L759.7 343.5L765.1 338.7L770.5 333.3L775.9 329.1L781.3 326.0L786.8 321.3L792.2 317.8L797.6 314.3L803.0 310.2L808.4 305.4L813.9 300.4L819.3 295.3L824.7 290.1L830.1 285.9L835.5 281.9L840.9 277.6L846.4 273.2L851.8 267.5L857.2 263.6L862.6 259.6L868.0 257.3L873.4 254.4L878.9 252.3L884.3 249.4L889.7 246.5L895.1 243.3L900.5 240.9L905.9 238.4L911.4 235.3L916.8 231.1L922.2 228.9L927.6 225.6L933.0 222.8L938.5 221.0L943.9 219.7L949.3 217.6L954.7 215.2L960.1 213.9L965.5 211.5L971.0 208.7L976.4 206.7L981.8 205.3L987.2 204.5L992.6 202.2L998.0 198.9L1003.5 194.9L1008.9 192.0L1014.3 188.1L1019.7 184.4L1025.1 180.6L1030.6 175.9L1036.0 170.1L1041.4 165.6L1046.8 161.5L1052.2 158.0L1057.6 154.4L1063.1 151.1L1068.5 149.6L1073.9 147.7L1079.3 146.2L1084.7 147.0L1090.1 148.5L1095.6 148.2L1101.0 148.2L1106.4 148.8L1111.8 148.4L1117.2 147.1L1122.6 147.3L1128.1 148.6L1133.5 150.9L1138.9 152.2L1144.3 152.1L1149.7 152.9L1155.2 154.5L1160.6 157.1L1166.0 161.1L1171.4 165.8L1176.8 168.9L1182.2 171.6L1187.7 175.2L1193.1 178.9L1198.5 182.7L1203.9 185.2L1209.3 187.6L1214.7 188.7L1220.2 188.5L1225.6 189.4L1231.0 192.3L1236.4 197.5L1241.8 202.6L1247.3 208.9L1252.7 215.9L1258.1 222.3L1263.5 227.8L1268.9 233.2L1274.3 239.2L1279.8 246.0L1285.2 252.5L1290.6 258.7L1296.0 263.6L1301.4 267.2L1306.8 270.4L1312.3 274.4L1317.7 278.0L1323.1 280.8L1328.5 284.3L1333.9 287.6L1339.3 290.5L1344.8 294.1L1350.2 301.3L1355.6 307.6L1361.0 312.4L1366.4 316.2L1371.9 318.2L1377.3 322.6L1382.7 327.8L1388.1 333.8L1393.5 338.1L1398.9 343.9L1404.4 350.1L1409.8 357.6L1415.2 363.8L1420.6 368.5L1426.0 374.2L1431.4 380.2L1436.9 387.3L1442.3 394.2L1447.7 400.7L1453.1 406.7L1458.5 412.6L1464.0 418.5L1469.4 425.4L1474.8 431.8L1480.2 436.2L1485.6 438.6L1491.0 440.3L1496.5 443.4L1501.9 446.1L1507.3 448.9L1512.7 448.7L1518.1 448.2L1523.5 447.6L1529.0 448.5L1534.4 447.7L1539.8 448.0L1545.2 446.9L1550.6 446.1L1556.0 446.0L1561.5 446.2L1566.9 446.4L1572.3 446.8L1577.7 446.8L1583.1 447.8L1588.6 449.8L1594.0 451.0L1599.4 452.2L1604.8 452.4L1610.2 453.9L1615.6 457.6L1621.1 460.6L1626.5 465.8L1631.9 468.8L1637.3 471.8L1642.7 474.5L1648.1 477.8L1653.6 480.5L1659.0 483.6L1664.4 486.2L1669.8 490.1L1675.2 492.5L1680.7 495.6L1686.1 499.3L1691.5 503.6L1696.9 506.5L1702.3 509.7L1707.7 511.5L1713.2 513.8L1718.6 515.5L1724.0 517.0L1729.4 518.9L1734.8 520.1L1740.2 520.8L1745.7 521.0L1751.1 519.9L1756.5 519.5L1761.9 519.7L1767.3 521.6L1772.7 524.0L1778.2 526.1L1783.6 527.5L1789.0 527.2L1794.4 525.8L1799.8 522.8L1805.3 518.9L1810.7 516.5L1816.1 513.9L1821.5 511.2L1826.9 509.2L1832.3 507.5L1837.8 506.0" stroke="#ee6896" stroke-width="2"/>
</g>
<path d="M1855.5 10V875" stroke="#484848" stroke-width="1.6" fill="none"/>
<path d="M10 620.05H1906" stroke="#5e5e5e" stroke-width="1.5" fill="none"/>
<path d="M10 853.5H1906" stroke="#1a1a1a" stroke-width="1.3" fill="none"/>
<text x="1859.6" y="587.5" font-size="8" fill="#444" textLength="23.6" lengthAdjust="spacingAndGlyphs">96.000</text>
<text x="1859.6" y="552.9" font-size="8" fill="#444" textLength="23.6" lengthAdjust="spacingAndGlyphs">97.000</text>
<text x="1859.6" y="518.2" font-size="8" fill="#444" textLength="23.6" lengthAdjust="spacingAndGlyphs">98.000</text>
<text x="1859.6" y="483.5" font-size="8" fill="#444" textLength="23.6" lengthAdjust="spacingAndGlyphs">99.000</text>
<text x="1859.6" y="448.9" font-size="8" fill="#444" textLength="27.8" lengthAdjust="spacingAndGlyphs">100.000</text>
<text x="1859.6" y="414.2" font-size="8" fill="#444" textLength="27.8" lengthAdjust="spacingAndGlyphs">101.000</text>
<text x="1859.6" y="379.6" font-size="8" fill="#444" textLength="27.8" lengthAdjust="spacingAndGlyphs">102.000</text>
<text x="1859.6" y="344.9" font-size="8" fill="#444" textLength="27.8" lengthAdjust="spacingAndGlyphs">103.000</text>
<text x="1859.6" y="310.3" font-size="8" fill="#444" textLength="27.8" lengthAdjust="spacingAndGlyphs">104.000</text>
<text x="1859.6" y="275.6" font-size="8" fill="#444" textLength="27.8" lengthAdjust="spacingAndGlyphs">105.000</text>
<text x="1859.6" y="241.0" font-size="8" fill="#444" textLength="27.8" lengthAdjust="spacingAndGlyphs">106.000</text>
<text x="1859.6" y="206.3" font-size="8" fill="#444" textLength="27.8" lengthAdjust="spacingAndGlyphs">107.000</text>
<text x="1859.6" y="171.7" font-size="8" fill="#444" textLength="27.8" lengthAdjust="spacingAndGlyphs">108.000</text>
<text x="1859.6" y="137.1" font-size="8" fill="#444" textLength="27.8" lengthAdjust="spacingAndGlyphs">109.000</text>
<text x="1859.6" y="102.4" font-size="8" fill="#444" textLength="27.8" lengthAdjust="spacingAndGlyphs">110.000</text>
<text x="1859.6" y="67.8" font-size="8" fill="#444" textLength="27.8" lengthAdjust="spacingAndGlyphs">111.000</text>
<text x="1859.6" y="834.9" font-size="8" fill="#444" textLength="27.6" lengthAdjust="spacingAndGlyphs">10.0000</text>
<text x="1859.6" y="813.1" font-size="8" fill="#444" textLength="27.6" lengthAdjust="spacingAndGlyphs">20.0000</text>
<text x="1859.6" y="791.4" font-size="8" fill="#444" textLength="27.6" lengthAdjust="spacingAndGlyphs">30.0000</text>
<text x="1859.6" y="769.6" font-size="8" fill="#444" textLength="27.6" lengthAdjust="spacingAndGlyphs">40.0000</text>
<text x="1859.6" y="747.9" font-size="8" fill="#444" textLength="27.6" lengthAdjust="spacingAndGlyphs">50.0000</text>
<text x="1859.6" y="726.1" font-size="8" fill="#444" textLength="27.6" lengthAdjust="spacingAndGlyphs">60.0000</text>
<text x="1859.6" y="704.4" font-size="8" fill="#444" textLength="27.6" lengthAdjust="spacingAndGlyphs">70.0000</text>
<text x="1859.6" y="682.6" font-size="8" fill="#444" textLength="27.6" lengthAdjust="spacingAndGlyphs">80.0000</text>
<text x="1859.6" y="660.9" font-size="8" fill="#444" textLength="27.6" lengthAdjust="spacingAndGlyphs">90.0000</text>
<text x="1859.6" y="639.1" font-size="8" fill="#444" textLength="31.4" lengthAdjust="spacingAndGlyphs">100.0000</text>
<text x="55.0" y="867.2" font-size="7.7" fill="#444" text-anchor="middle">May</text>
<text x="114.4" y="867.2" font-size="7.7" fill="#444" text-anchor="middle">16</text>
<text x="179.6" y="867.2" font-size="7.7" fill="#444" text-anchor="middle">Jun</text>
<text x="287.8" y="867.2" font-size="7.7" fill="#444" text-anchor="middle">Jul</text>
<text x="347.9" y="867.2" font-size="7.7" fill="#444" text-anchor="middle">16</text>
<text x="412.4" y="867.2" font-size="7.7" fill="#444" text-anchor="middle">Aug</text>
<text x="471.5" y="867.2" font-size="7.7" fill="#444" text-anchor="middle">16</text>
<text x="532.2" y="867.2" font-size="7.7" fill="#444" text-anchor="middle">Sep</text>
<text x="646.0" y="867.2" font-size="7.7" fill="#444" text-anchor="middle">Oct</text>
<text x="705.4" y="867.2" font-size="7.7" fill="#444" text-anchor="middle">16</text>
<text x="770.5" y="867.2" font-size="7.7" fill="#444" text-anchor="middle">Nov</text>
<text x="884.4" y="867.2" font-size="7.7" fill="#444" text-anchor="middle">Dec</text>
<text x="997.3" y="867.2" font-size="7.7" fill="#444" text-anchor="middle" font-weight="bold">2025</text>
<text x="1057.8" y="867.2" font-size="7.7" fill="#444" text-anchor="middle">17</text>
<text x="1116.9" y="867.2" font-size="7.7" fill="#444" text-anchor="middle">Feb</text>
<text x="1224.9" y="867.2" font-size="7.7" fill="#444" text-anchor="middle">Mar</text>
<text x="1338.8" y="867.2" font-size="7.7" fill="#444" text-anchor="middle">Apr</text>
<text x="1452.4" y="867.2" font-size="7.7" fill="#444" text-anchor="middle">May</text>
<text x="1512.5" y="867.2" font-size="7.7" fill="#444" text-anchor="middle">16</text>
<text x="1572.3" y="867.2" font-size="7.7" fill="#444" text-anchor="middle">Jun</text>
<text x="1685.8" y="867.2" font-size="7.7" fill="#444" text-anchor="middle">Jul</text>
<text x="1745.6" y="867.2" font-size="7.7" fill="#444" text-anchor="middle">16</text>
<text x="1810.8" y="867.2" font-size="7.7" fill="#444" text-anchor="middle">Aug</text>
<rect x="1858.8" y="13.5" width="43" height="26" rx="3.5" fill="#fff" stroke="#f0f0f0" stroke-width="1"/>
<text x="1878.1" y="31.2" font-size="11.5" fill="#2a2a2a" text-anchor="middle" textLength="20.8" lengthAdjust="spacingAndGlyphs">USD</text>
<path d="M1855.5 495.1H1885.4Q1886.9 495.1 1886.9 496.6V504.2Q1886.9 505.7 1885.4 505.7H1855.5Z" fill="#e91e63"/>
<text x="1860.3" y="503.3" font-size="7.8" font-weight="bold" fill="#fff" textLength="24" lengthAdjust="spacingAndGlyphs">98.262</text>
<path d="M1855.5 505.8H1885.4Q1886.9 505.8 1886.9 507.3V514.9Q1886.9 516.4 1885.4 516.4H1855.5Z" fill="#3333f5"/>
<text x="1860.3" y="514.0" font-size="7.8" font-weight="bold" fill="#fff" textLength="24" lengthAdjust="spacingAndGlyphs">98.124</text>
<path d="M1855.5 725.6H1890.5Q1892.0 725.6 1892.0 727.1V734.5Q1892.0 736.0 1890.5 736.0H1855.5Z" fill="#555555"/>
<text x="1860.3" y="733.7" font-size="7.8" font-weight="bold" fill="#fff" textLength="28.2" lengthAdjust="spacingAndGlyphs">55.5544</text>
<path d="M1855.5 736.6H1890.5Q1892.0 736.6 1892.0 738.1V745.6Q1892.0 747.1 1890.5 747.1H1855.5Z" fill="#0f7a58"/>
<text x="1860.3" y="744.8" font-size="7.8" font-weight="bold" fill="#fff" textLength="28.2" lengthAdjust="spacingAndGlyphs">51.8493</text>
<path d="M1855.5 756.2H1890.5Q1892.0 756.2 1892.0 757.7V765.1Q1892.0 766.6 1890.5 766.6H1855.5Z" fill="#ff00ff"/>
<text x="1860.3" y="764.3" font-size="7.8" font-weight="bold" fill="#fff" textLength="28.2" lengthAdjust="spacingAndGlyphs">42.5718</text>
<path d="M1855.5 770.2H1890.5Q1892.0 770.2 1892.0 771.8V779.2Q1892.0 780.7 1890.5 780.7H1855.5Z" fill="#3333ff"/>
<text x="1860.3" y="778.4" font-size="7.8" font-weight="bold" fill="#fff" textLength="28.2" lengthAdjust="spacingAndGlyphs">36.2439</text>

<text x="18.0" y="29.8" font-size="12" fill="#3c3c3c" textLength="223.3" lengthAdjust="spacingAndGlyphs">US DOLLAR INDEX, 1D, IUS, Trade Price</text>
<text x="249.3" y="29.8" font-size="12" fill="#5252ff" textLength="38.3" lengthAdjust="spacingAndGlyphs">98.124</text>
<text x="296.3" y="29.8" font-size="12" fill="#5252ff" textLength="87.6" lengthAdjust="spacingAndGlyphs">-0.276 (−0.28%)</text>
<text x="402.8" y="29.8" font-size="12" fill="#3c3c3c" textLength="96.3" lengthAdjust="spacingAndGlyphs">MA (25, close, 0)</text>
<text x="507.6" y="29.8" font-size="12" fill="#f0406f" textLength="37.6" lengthAdjust="spacingAndGlyphs">98.262</text>
<text x="17.7" y="639.6" font-size="12" fill="#3c3c3c" textLength="182.7" lengthAdjust="spacingAndGlyphs">RSI (9, Exponential, Simple, 14)</text>
<text x="209.1" y="639.6" font-size="12" fill="#5a5aff" textLength="44.1" lengthAdjust="spacingAndGlyphs">36.2439</text>
<text x="261.5" y="639.6" font-size="12" fill="#2e8b66" textLength="44.8" lengthAdjust="spacingAndGlyphs">51.8493</text>
<text x="324.6" y="639.6" font-size="12" fill="#3c3c3c" textLength="189.1" lengthAdjust="spacingAndGlyphs">RSI (14, Exponential, Simple, 25)</text>
<text x="521.7" y="639.6" font-size="12" fill="#ff33ff" textLength="45.1" lengthAdjust="spacingAndGlyphs">42.5718</text>
<text x="575.2" y="639.6" font-size="12" fill="#666" textLength="45.0" lengthAdjust="spacingAndGlyphs">55.5544</text>
<defs><filter id="lb" x="-10%" y="-10%" width="120%" height="120%"><feGaussianBlur stdDeviation="0.5"/></filter></defs><g filter="url(#lb)"><path d="M1832.9 885h1.0v1h-1.0zM1837.0 885h1.7v1h-1.7zM1855.0 885h1.2v1h-1.2zM1832.9 886h1.5v1h-1.5zM1836.3 886h3.4v1h-3.4zM1854.1 886h5.8v1h-5.8zM1832.9 887h2.7v1h-2.7zM1836.0 887h4.7v1h-4.7zM1841.9 887h1.2v1h-1.2zM1850.9 887h1.0v1h-1.0zM1855.0 887h5.3v1h-5.3zM1832.4 888h7.2v1h-7.2zM1840.4 888h1.7v1h-1.7zM1843.1 888h7.0v1h-7.0zM1850.9 888h1.9v1h-1.9zM1854.1 888h3.3v1h-3.3zM1857.9 888h2.7v1h-2.7zM1831.9 889h4.0v1h-4.0zM1838.1 889h12.5v1h-12.5zM1851.1 889h4.6v1h-4.6zM1857.7 889h2.9v1h-2.9zM1832.9 890h3.0v1h-3.0zM1838.3 890h6.6v1h-6.6zM1847.3 890h3.6v1h-3.6zM1853.1 890h2.4v1h-2.4zM1857.5 890h2.9v1h-2.9zM1833.6 891h12.9v1h-12.9zM1847.7 891h3.4v1h-3.4zM1853.1 891h6.8v1h-6.8zM1834.9 892h3.2v1h-3.2zM1839.0 892h1.2v1h-1.2zM1841.2 892h4.4v1h-4.4zM1848.2 892h2.9v1h-2.9zM1853.1 892h5.6v1h-5.6zM1832.9 893h1.0v1h-1.0zM1835.6 893h3.2v1h-3.2zM1840.7 893h3.9v1h-3.9zM1848.5 893h3.4v1h-3.4zM1855.3 893h2.2v1h-2.2zM1859.2 893h1.7v1h-1.7zM1831.9 894h1.0v1h-1.0zM1833.9 894h1.0v1h-1.0zM1836.1 894h2.9v1h-2.9zM1840.9 894h1.9v1h-1.9zM1845.6 894h2.4v1h-2.4zM1848.5 894h2.9v1h-2.9zM1854.5 894h3.4v1h-3.4zM1859.2 894h1.2v1h-1.2zM1836.1 895h4.1v1h-4.1zM1842.2 895h1.5v1h-1.5zM1846.0 895h1.9v1h-1.9zM1848.7 895h3.2v1h-3.2zM1853.6 895h4.4v1h-4.4zM1858.9 895h1.2v1h-1.2zM1835.8 896h2.2v1h-2.2zM1839.0 896h1.7v1h-1.7zM1843.1 896h1.5v1h-1.5zM1845.8 896h8.5v1h-8.5zM1855.8 896h2.2v1h-2.2zM1858.4 896h1.5v1h-1.5zM1839.0 897h2.9v1h-2.9zM1843.1 897h7.8v1h-7.8zM1851.4 897h3.2v1h-3.2zM1835.1 898h1.7v1h-1.7zM1843.1 898h7.5v1h-7.5zM1851.9 898h1.5v1h-1.5zM1856.2 898h1.7v1h-1.7zM1835.6 899h2.2v1h-2.2zM1843.9 899h6.1v1h-6.1zM1855.0 899h2.9v1h-2.9zM1834.9 900h2.2v1h-2.2zM1844.6 900h4.6v1h-4.6zM1855.5 900h2.2v1h-2.2zM1834.9 901h1.5v1h-1.5zM1838.0 901h1.0v1h-1.0zM1840.0 901h1.0v1h-1.0zM1842.9 901h1.2v1h-1.2zM1845.6 901h2.4v1h-2.4zM1849.7 901h1.5v1h-1.5zM1851.9 901h1.0v1h-1.0zM1855.8 901h1.2v1h-1.2zM1838.3 902h1.7v1h-1.7zM1842.9 902h1.5v1h-1.5zM1848.0 902h1.0v1h-1.0zM1849.9 902h1.9v1h-1.9zM1853.8 902h1.2v1h-1.2zM1845.8 903h2.7v1h-2.7z" fill="#0010ff"/><path d="M1851.1 890h1.7v1h-1.7zM1851.4 891h1.5v1h-1.5zM1851.4 892h1.5v1h-1.5zM1834.1 897h2.7v1h-2.7zM1856.5 897h3.4v1h-3.4z" fill="#0010ff" opacity="0.5"/></g>
<g fill="none" stroke="#0014ff" stroke-width="2.25" stroke-linejoin="miter" stroke-linecap="butt"><path d="M1868.55 888.8V898.45H1873.9"/><path d="M1883.2 892.1C1882.6 890.7 1881.6 890.05 1880.2 890.05C1878.5 890.05 1877.45 890.9 1877.45 892.1C1877.45 893.3 1878.5 893.85 1880.3 894.25C1882.2 894.65 1883.15 895.25 1883.15 896.45C1883.15 897.7 1882 898.45 1880.25 898.45C1878.6 898.45 1877.6 897.8 1876.9 896.4"/><path d="M1893.9 890.05H1888.25V898.45H1893.9M1888.25 894.2H1893.4"/><path d="M1904.2 892.3C1903.5 890.8 1902.4 890.05 1900.85 890.05C1898.65 890.05 1897.25 891.7 1897.25 894.25C1897.25 896.8 1898.65 898.45 1900.85 898.45C1902.2 898.45 1903.3 897.9 1904.05 897.1V894.75H1900.9"/></g>
</svg>
</body></html>
